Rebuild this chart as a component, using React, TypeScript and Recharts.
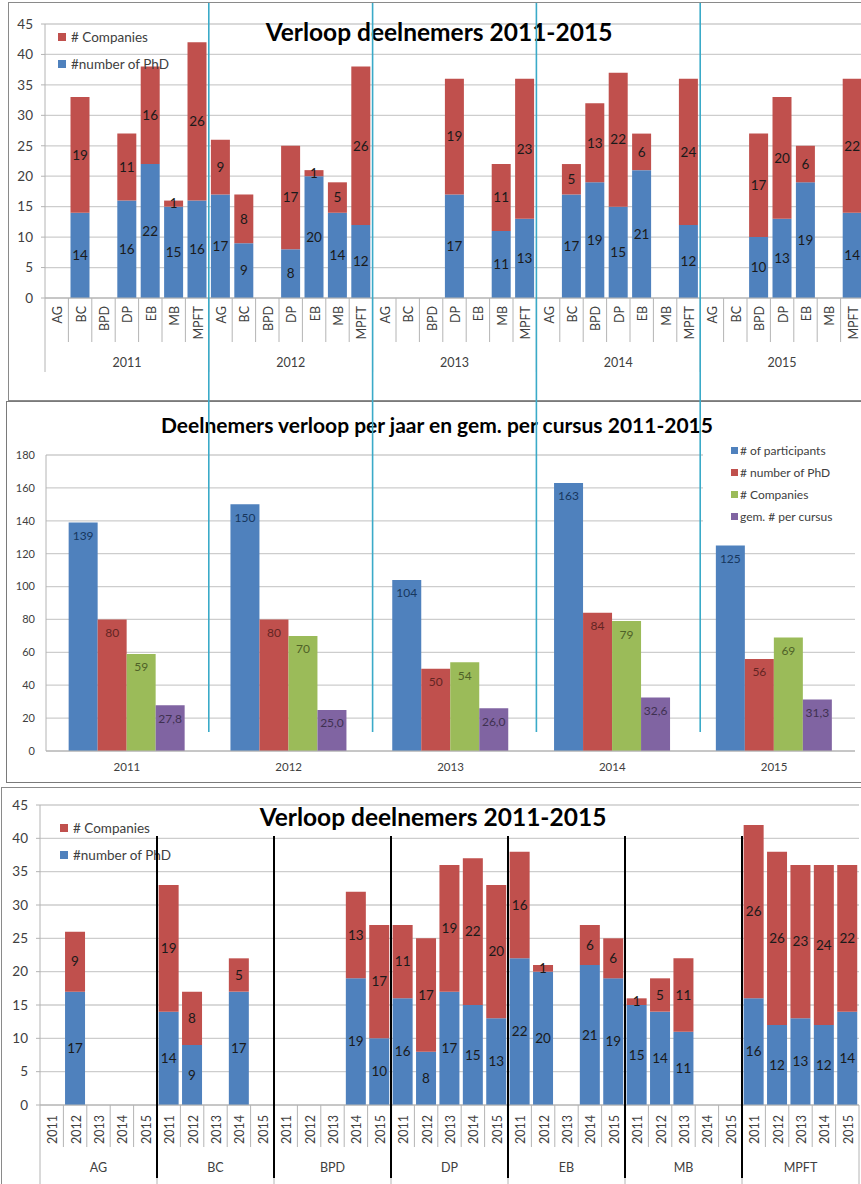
import React from 'react';
import { BarChart, Bar, XAxis, YAxis, CartesianGrid, LabelList, Legend } from 'recharts';

// ---------- DATA ----------
const courses = ['AG', 'BC', 'BPD', 'DP', 'EB', 'MB', 'MPFT'];
const years = ['2011', '2012', '2013', '2014', '2015'];

// rows = course (AG..MPFT), columns = year (2011..2015); null = no course that year
const phdCounts: (number | null)[][] = [
  [null, 17, null, null, null], // AG
  [14, 9, null, 17, null], // BC
  [null, null, null, 19, 10], // BPD
  [16, 8, 17, 15, 13], // DP
  [22, 20, null, 21, 19], // EB
  [15, 14, 11, null, null], // MB
  [16, 12, 13, 12, 14], // MPFT
];
const companyCounts: (number | null)[][] = [
  [null, 9, null, null, null], // AG
  [19, 8, null, 5, null], // BC
  [null, null, null, 13, 17], // BPD
  [11, 17, 19, 22, 20], // DP
  [16, 1, null, 6, 6], // EB
  [1, 5, 11, null, null], // MB
  [26, 26, 23, 24, 22], // MPFT
];

// yearly totals
const participantsPerYear = [139, 150, 104, 163, 125];
const phdPerYear = [80, 80, 50, 84, 56];
const companiesPerYear = [59, 70, 54, 79, 69];
const avgPerCourse = [27.8, 25.0, 26.0, 32.6, 31.3];

const stackTicks = [0, 5, 10, 15, 20, 25, 30, 35, 40, 45];
const summaryTicks = [0, 20, 40, 60, 80, 100, 120, 140, 160, 180];

const titleStacked = 'Verloop deelnemers 2011-2015';
const titleSummary = 'Deelnemers verloop per jaar en gem. per cursus 2011-2015';

const stackLegendOrder = ['# Companies', '#number of PhD'];
const summaryLegendOrder = ['# of participants', '# number of PhD', '# Companies', 'gem. # per cursus'];

// ---------- derived tables ----------
const byYear = years.flatMap((y, yi) =>
  courses.map((c, ci) => ({ key: `${y}|${c}`, phd: phdCounts[ci][yi], companies: companyCounts[ci][yi] }))
);
const byCourse = courses.flatMap((c, ci) =>
  years.map((y, yi) => ({ key: `${c}|${y}`, phd: phdCounts[ci][yi], companies: companyCounts[ci][yi] }))
);
const summary = years.map((y, i) => ({
  year: y,
  participants: participantsPerYear[i],
  phd: phdPerYear[i],
  companies: companiesPerYear[i],
  avg: avgPerCourse[i],
}));

// ---------- styles ----------
const BLUE = '#4F81BD';
const RED = '#C0504D';
const GREEN = '#9BBB59';
const PURPLE = '#8064A2';
const GRID = '#CDCDCD';
const AXIS = '#B4B4B4';
const TEXT = '#404040';
const FONT = 'Lato, "Open Sans", sans-serif';

// layout of chart 1 (top)
const C1 = { w: 870, h: 400, top: 24, right: 6, bottom: 24, yw: 45, xh: 78 };
const BAND1 = (C1.w - C1.right - C1.yw) / byYear.length;
// layout of chart 3 (bottom)
const C3 = { y0: 786, w: 861, h: 398, top: 19, right: 2, bottom: 0, yw: 40, xh: 79 };
const BAND3 = (C3.w - C3.right - C3.yw) / byCourse.length;

type TickCfg = {
  band: number;
  perGroup: number;
  total: number;
  labelTop: number;
  shortLen: number;
  longLen: number;
  groupY: number;
  font: number;
};

function makeTick(cfg: TickCfg) {
  return (props: any) => {
    const { x, y, payload } = props;
    const index: number = props.index ?? payload.index;
    const [group, cat] = String(payload.value).split('|');
    const pos = index % cfg.perGroup;
    const left = x - cfg.band / 2;
    const right = x + cfg.band / 2;
    return (
      <g>
        <line x1={left} x2={left} y1={y} y2={y + (pos === 0 ? cfg.longLen : cfg.shortLen)} stroke={AXIS} strokeWidth={1} />
        {index === cfg.total - 1 && (
          <line x1={right} x2={right} y1={y} y2={y + cfg.longLen} stroke={AXIS} strokeWidth={1} />
        )}
        <text
          transform={`translate(${x + 1},${y + cfg.labelTop}) rotate(-90)`}
          textAnchor="end"
          dominantBaseline="central"
          fontSize={cfg.font}
          fill={TEXT}
          fontFamily={FONT}
        >
          {cat}
        </text>
        {pos === Math.floor(cfg.perGroup / 2) && (
          <text x={x} y={y + cfg.groupY} textAnchor="middle" dominantBaseline="central" fontSize={cfg.font} fill={TEXT} fontFamily={FONT}>
            {group}
          </text>
        )}
      </g>
    );
  };
}

const tick1 = makeTick({ band: BAND1, perGroup: courses.length, total: byYear.length, labelTop: 8, shortLen: 44, longLen: 74, groupY: 64, font: 12.5 });
const tick3 = makeTick({ band: BAND3, perGroup: years.length, total: byCourse.length, labelTop: 10, shortLen: 42, longLen: 80, groupY: 62, font: 12.5 });

const ordered = (payload: any[], order: string[]) =>
  [...(payload || [])].sort((a, b) => order.indexOf(a.value) - order.indexOf(b.value));

const StackLegend = (props: any) => {
  const items = ordered(props.payload, stackLegendOrder);
  return (
    <div style={{ fontFamily: FONT, fontSize: 13.5, color: TEXT }}>
      {items.map((it: any) => (
        <div key={it.value} style={{ display: 'flex', alignItems: 'center', height: 27, whiteSpace: 'nowrap' }}>
          <span style={{ display: 'inline-block', width: 8, height: 8, background: it.color, marginRight: 5 }} />
          <span>{it.value}</span>
        </div>
      ))}
    </div>
  );
};

const SummaryLegend = (props: any) => {
  const items = ordered(props.payload, summaryLegendOrder);
  return (
    <div style={{ fontFamily: FONT, fontSize: 12, color: TEXT, background: '#fff', width: '100%', height: '100%', paddingTop: 0, boxSizing: 'border-box' }}>
      {items.map((it: any) => (
        <div key={it.value} style={{ display: 'flex', alignItems: 'center', height: 21.8, paddingLeft: 28, whiteSpace: 'nowrap' }}>
          <span style={{ display: 'inline-block', width: 7, height: 7, background: it.color, marginRight: 2 }} />
          <span>{it.value}</span>
        </div>
      ))}
    </div>
  );
};

function StackedChart(props: { data: any[]; cfg: any; tick: any; legendPos: { left: number; top: number }; gap: string }) {
  const { data, cfg, tick, legendPos, gap } = props;
  return (
    <BarChart
      width={cfg.w}
      height={cfg.h}
      data={data}
      margin={{ top: cfg.top, right: cfg.right, left: 0, bottom: cfg.bottom }}
      barCategoryGap={gap}
      style={{ fontFamily: FONT }}
    >
      <CartesianGrid vertical={false} stroke={GRID} strokeWidth={1.3} />
      <XAxis
        dataKey="key"
        height={cfg.xh}
        interval={0}
        tickLine={false}
        tickSize={0}
        tickMargin={0}
        axisLine={{ stroke: AXIS }}
        tick={tick}
      />
      <YAxis
        width={cfg.yw}
        domain={[0, 45]}
        ticks={stackTicks}
        interval={0}
        tickSize={4}
        tickMargin={8}
        tickLine={{ stroke: AXIS }}
        axisLine={{ stroke: AXIS }}
        tick={{ fontSize: 13.5, fill: TEXT, fontFamily: FONT }}
      />
      <Legend
        layout="vertical"
        align="center"
        verticalAlign="middle"
        wrapperStyle={{ left: legendPos.left, top: legendPos.top, width: 140 }}
        content={StackLegend}
      />
      <Bar dataKey="phd" name="#number of PhD" stackId="s" fill={BLUE} isAnimationActive={false}>
        <LabelList dataKey="phd" position="center" fill="#1a1a1a" fontSize={13.5} fontFamily={FONT} />
      </Bar>
      <Bar dataKey="companies" name="# Companies" stackId="s" fill={RED} isAnimationActive={false}>
        <LabelList dataKey="companies" position="center" fill="#1a1a1a" fontSize={13.5} fontFamily={FONT} />
      </Bar>
    </BarChart>
  );
}

export default function App() {
  const cyanXs = [1, 2, 3, 4].map((k) => C1.yw + k * courses.length * BAND1);
  const blackXs = [1, 2, 3, 4, 5, 6].map((k) => C3.yw + k * years.length * BAND3);
  return (
    <div style={{ position: 'absolute', left: 0, top: 0, width: 861, height: 1184, overflow: 'hidden', background: '#fff', fontFamily: FONT }}>
      {/* frames */}
      <div style={{ position: 'absolute', left: 8, top: 2, width: 900, height: 397, border: '1px solid #8A8A8A' }} />
      <div style={{ position: 'absolute', left: 6, top: 401, width: 900, height: 380, border: '1.5px solid #7A7A7A' }} />
      <div style={{ position: 'absolute', left: 1, top: 787, width: 900, height: 420, border: '1px solid #8A8A8A' }} />

      {/* top chart */}
      <div style={{ position: 'absolute', left: 0, top: 0 }}>
        <StackedChart data={byYear} cfg={C1} tick={tick1} legendPos={{ left: 58, top: 23 }} gap="9%" />
      </div>
      <div style={{ position: 'absolute', left: 0, top: 14, width: 878, textAlign: 'center', fontSize: 24.5, fontWeight: 700, color: '#000', lineHeight: '36px' }}>
        {titleStacked}
      </div>

      {/* middle chart */}
      <div style={{ position: 'absolute', left: 0, top: 400 }}>
        <BarChart
          width={861}
          height={380}
          data={summary}
          margin={{ top: 55, right: 6, left: 0, bottom: 0 }}
          barCategoryGap="14%"
          barGap={0}
          style={{ fontFamily: FONT }}
        >
          <CartesianGrid vertical={false} stroke={GRID} strokeWidth={1.3} />
          <XAxis dataKey="year" height={29} tickLine={false} tickSize={0} tickMargin={12} axisLine={{ stroke: AXIS }} tick={{ fontSize: 11.5, fill: TEXT, fontFamily: FONT }} />
          <YAxis
            width={46}
            domain={[0, 180]}
            ticks={summaryTicks}
            interval={0}
            tickLine={false}
            tickSize={0}
            tickMargin={11}
            axisLine={{ stroke: AXIS }}
            tick={{ fontSize: 11, fill: TEXT, fontFamily: FONT }}
          />
          <Legend
            layout="vertical"
            align="center"
            verticalAlign="middle"
            wrapperStyle={{ left: 703, top: 40, width: 152, height: 100 }}
            content={SummaryLegend}
          />
          <Bar dataKey="participants" name="# of participants" fill={BLUE} isAnimationActive={false}>
            <LabelList dataKey="participants" position="insideTop" offset={9} fill="#17375E" fontSize={12} fontFamily={FONT} />
          </Bar>
          <Bar dataKey="phd" name="# number of PhD" fill={RED} isAnimationActive={false}>
            <LabelList dataKey="phd" position="insideTop" offset={9} fill="#632523" fontSize={12} fontFamily={FONT} />
          </Bar>
          <Bar dataKey="companies" name="# Companies" fill={GREEN} isAnimationActive={false}>
            <LabelList dataKey="companies" position="insideTop" offset={9} fill="#4F6228" fontSize={12} fontFamily={FONT} />
          </Bar>
          <Bar dataKey="avg" name="gem. # per cursus" fill={PURPLE} isAnimationActive={false}>
            <LabelList
              dataKey="avg"
              position="insideTop"
              offset={9}
              fill="#3F3151"
              fontSize={12}
              fontFamily={FONT}
              formatter={(v: any) => Number(v).toFixed(1).replace('.', ',')}
            />
          </Bar>
        </BarChart>
      </div>
      <div style={{ position: 'absolute', left: 0, top: 411, width: 874, textAlign: 'center', fontSize: 21, fontWeight: 700, color: '#000', lineHeight: '28px' }}>
        {titleSummary}
      </div>

      {/* bottom chart */}
      <div style={{ position: 'absolute', left: 0, top: C3.y0 }}>
        <StackedChart data={byCourse} cfg={C3} tick={tick3} legendPos={{ left: 60, top: 28 }} gap="7%" />
      </div>
      <div style={{ position: 'absolute', left: 0, top: 799, width: 866, textAlign: 'center', fontSize: 24.5, fontWeight: 700, color: '#000', lineHeight: '36px' }}>
        {titleStacked}
      </div>

      {/* annotation lines */}
      <svg width={861} height={1184} style={{ position: 'absolute', left: 0, top: 0, pointerEvents: 'none' }}>
        {cyanXs.map((x) => (
          <line key={`c${x}`} x1={x} x2={x} y1={3} y2={732} stroke="#3AAAC8" strokeWidth={1.6} />
        ))}
        {blackXs.map((x) => (
          <line key={`b${x}`} x1={x} x2={x} y1={836} y2={1178} stroke="#000" strokeWidth={2} />
        ))}
      </svg>
    </div>
  );
}
